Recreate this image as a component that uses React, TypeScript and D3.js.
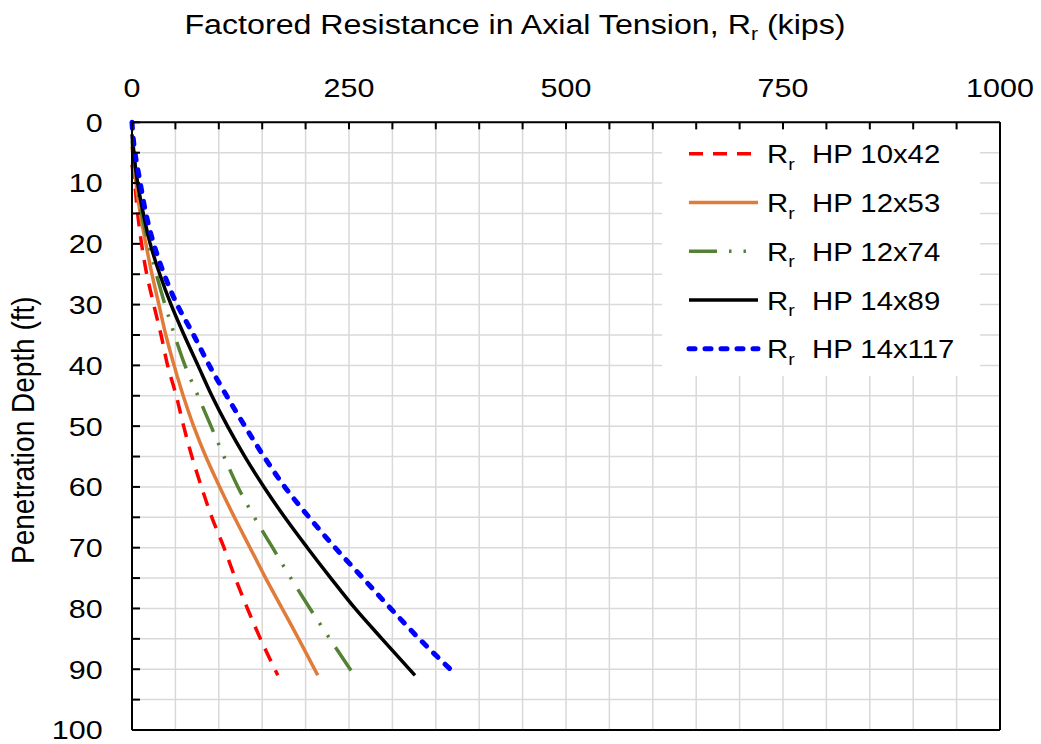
import React from "react";
import * as d3 from "d3";

const depths = [0, 2, 3, 4, 6, 7, 8, 10, 15, 20, 25, 30, 35, 40, 45, 50, 55, 60, 65, 70, 75, 80, 85, 91];

const hp10x42: (number | null)[] = [null, null, null, null, null, 0, 1, 3, 6.5, 11, 17, 25, 33.5, 41, 51, 59.5, 69, 80, 92, 106, 119, 133, 148, 168];
const hp12x53: (number | null)[] = [null, null, null, 0, 1.5, 2.2, 3, 4.6, 9.5, 16, 23, 31, 39, 48.5, 59, 71, 85, 101, 118, 136, 154, 173, 192, 214];
const hp12x74: (number | null)[] = [null, null, 0, 0.7, 2, 2.7, 3.5, 5.4, 11, 19, 28, 38, 49, 61, 76, 91, 106, 122, 141, 162, 183, 205, 228, 256];
const hp14x89: (number | null)[] = [null, 0, 0.7, 1.5, 3, 3.7, 4.5, 6.5, 13, 21, 32, 45, 60, 76, 92, 110, 130, 152, 176, 202, 229, 257, 288, 326];
const hp14x117: (number | null)[] = [0, 1, 1.7, 2.5, 4.5, 5.7, 7, 9.5, 16, 25, 37, 52, 71, 89, 109, 130, 152, 176, 204, 234, 266, 298, 331, 374];

const seriesNames = ["HP 10x42", "HP 12x53", "HP 12x74", "HP 14x89", "HP 14x117"];
const seriesValues = [hp10x42, hp12x53, hp12x74, hp14x89, hp14x117];
const seriesColors = ["#ff0000", "#e07b39", "#548235", "#000000", "#0000ff"];
const seriesDash = ["14 10", "", "28 12 2.5 12 2.5 12", "", "6 10"];
const seriesWidth = [3.5, 3.5, 3.5, 3.5, 5];
const seriesCap: ("butt" | "round")[] = ["butt", "butt", "butt", "butt", "round"];

const xTicks = [0, 250, 500, 750, 1000];
const yTicks = [0, 10, 20, 30, 40, 50, 60, 70, 80, 90, 100];

const W = 1041;
const H = 744;
const FONT = "'Liberation Sans', Arial, sans-serif";
const SX = 1.15;

export default function App() {
  const x = d3.scaleLinear().domain([0, 1000]).range([132, 1000]);
  const y = d3.scaleLinear().domain([0, 100]).range([122.3, 730]);

  const xGrid = d3.range(0, 1001, 50);
  const yGrid = d3.range(0, 101, 5);

  const lineGen = d3
    .line<[number, number | null]>()
    .defined((d) => d[1] !== null)
    .x((d) => x(d[1] as number))
    .y((d) => y(d[0]))
    .curve(d3.curveMonotoneY);

  const legX0 = 689;
  const legX1 = 758;
  const legTextX = 767;
  const legHPX = 812;
  const legBase0 = 163.3;
  const legStep = 48.75;

  return (
    <svg width={W} height={H} style={{ position: "absolute", left: 0, top: 0 }} fontFamily={FONT}>
      <rect x={0} y={0} width={W} height={H} fill="#fff" />
      {xGrid.map((v) => (
        <line key={"gx" + v} x1={x(v)} x2={x(v)} y1={y(0)} y2={y(100)} stroke="#d9d9d9" strokeWidth={1.5} />
      ))}
      {yGrid.map((v) => (
        <line key={"gy" + v} x1={x(0)} x2={x(1000)} y1={y(v)} y2={y(v)} stroke="#d9d9d9" strokeWidth={1.5} />
      ))}
      <rect x={662} y={130} width={318} height={246} fill="#fff" />
      {seriesValues.map((vals, i) => {
        const pts = depths.map((d, j) => [d, vals[j]] as [number, number | null]);
        return (
          <path
            key={"s" + i}
            d={lineGen(pts) || ""}
            fill="none"
            stroke={seriesColors[i]}
            strokeWidth={seriesWidth[i]}
            strokeDasharray={seriesDash[i] || undefined}
            strokeLinecap={seriesCap[i]}
          />
        );
      })}
      <line x1={x(0)} x2={x(1000)} y1={y(0)} y2={y(0)} stroke="#000" strokeWidth={2} />
      <line x1={x(0)} x2={x(1000)} y1={y(100)} y2={y(100)} stroke="#000" strokeWidth={2} />
      <line x1={x(0)} x2={x(0)} y1={y(0)} y2={y(100)} stroke="#000" strokeWidth={2} />
      <line x1={x(1000)} x2={x(1000)} y1={y(0)} y2={y(100)} stroke="#000" strokeWidth={2} />
      {xGrid.map((v) => (
        <line key={"tx" + v} x1={x(v)} x2={x(v)} y1={y(0)} y2={y(0) + 7} stroke="#000" strokeWidth={2} />
      ))}
      {yGrid.map((v) => (
        <line key={"ty" + v} x1={x(0)} x2={x(0) + 8} y1={y(v)} y2={y(v)} stroke="#000" strokeWidth={2} />
      ))}
      {xTicks.map((v) => (
        <g key={"lx" + v} transform={`translate(${x(v)},97) scale(${SX},1)`}>
          <text textAnchor="middle" fontSize={26.5} fill="#000">
            {v}
          </text>
        </g>
      ))}
      {yTicks.map((v) => (
        <g key={"ly" + v} transform={`translate(102.7,${y(v) + 9.4}) scale(${SX},1)`}>
          <text textAnchor="end" fontSize={26.5} fill="#000">
            {v}
          </text>
        </g>
      ))}
      <g transform={`translate(515,34) scale(${SX},1)`}>
        <text textAnchor="middle" fontSize={28} fill="#000">
          Factored Resistance in Axial Tension, R
          <tspan fontSize={18.5} dy={6}>r</tspan>
          <tspan dy={-6}> (kips)</tspan>
        </text>
      </g>
      <g transform={`translate(34,${(y(0) + y(100)) / 2 + 4}) scale(${SX},1) rotate(-90)`}>
        <text textAnchor="middle" fontSize={28} fill="#000">
          Penetration Depth (ft)
        </text>
      </g>
      {seriesNames.map((name, i) => {
        const base = legBase0 + i * legStep;
        const ly = base - 9.5;
        return (
          <g key={"leg" + i}>
            <line
              x1={legX0}
              x2={legX1}
              y1={ly}
              y2={ly}
              stroke={seriesColors[i]}
              strokeWidth={seriesWidth[i]}
              strokeDasharray={seriesDash[i] || undefined}
              strokeLinecap={seriesCap[i]}
            />
            <g transform={`translate(${legTextX},${base}) scale(${SX},1)`}>
              <text fontSize={25.5} fill="#000">
                R
                <tspan fontSize={17} dy={6.5}>r</tspan>
                <tspan x={(legHPX - legTextX) / SX} dy={-6.5}>{name}</tspan>
              </text>
            </g>
          </g>
        );
      })}
    </svg>
  );
}
